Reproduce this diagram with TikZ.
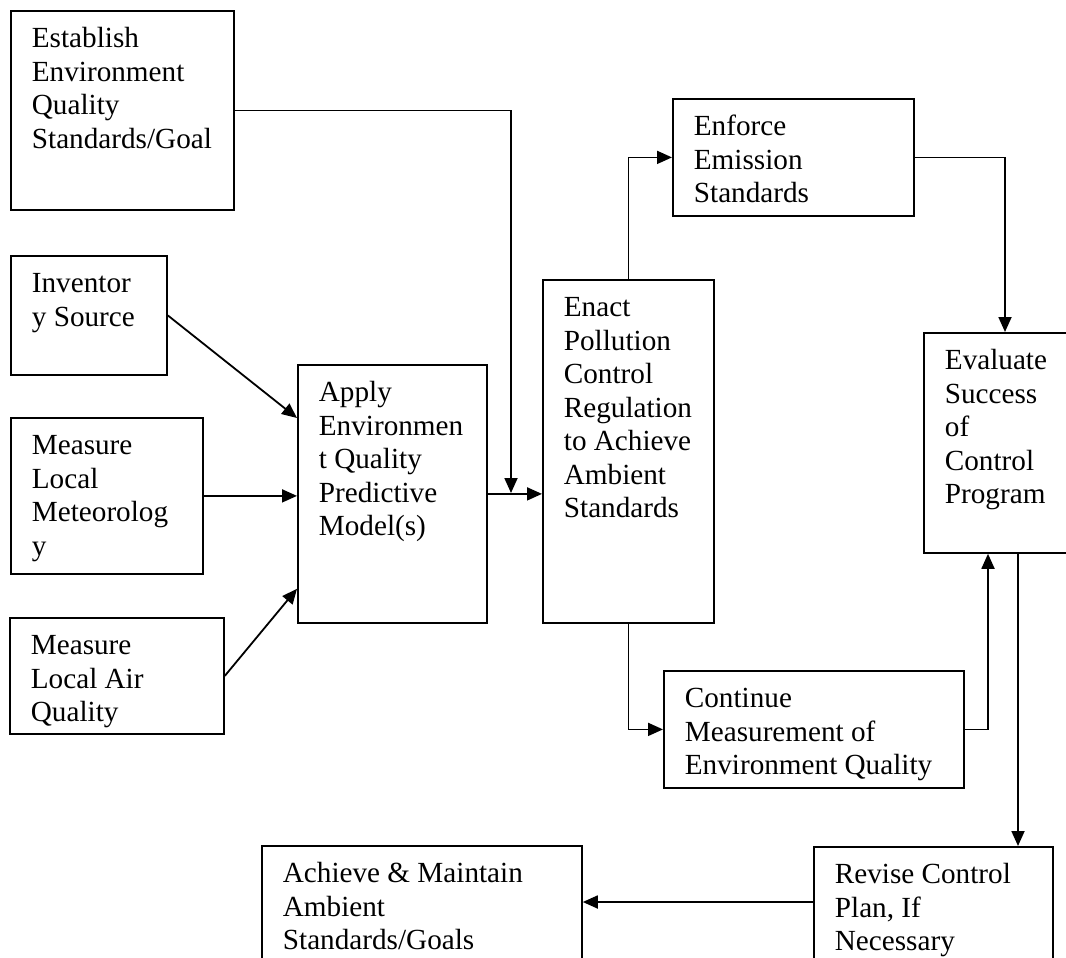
\documentclass[tikz,border=0pt]{standalone}
\usepackage{fontspec}
\setmainfont{Liberation Serif}
\usepackage{tikz}
\usetikzlibrary{arrows.meta}

\newcommand{\blkfont}{\fontsize{29.2pt}{33.5pt}\selectfont}
\newcommand{\blktext}[3]{\hspace*{21pt}\parbox[c][#2][t]{\dimexpr#1-21pt\relax}{\blkfont\raggedright\rule{0pt}{37pt}#3}}

\begin{document}
\begin{tikzpicture}[x=1pt, y=-1pt, line width=1.8pt,
		>={Triangle[length=15pt, width=13pt]},
		blk/.style={draw, anchor=north west, inner sep=0pt}]
			\useasboundingbox (0,0) rectangle (1066,958);
			\clip (0,0) rectangle (1066,958);

			% Boxes
			\node[blk] (est) at (10,10) {\blktext{223pt}{199pt}{Establish\\Environment\\Quality\\Standards/Goal}};
			\node[blk] (inv) at (10,255) {\blktext{156pt}{119pt}{Inventor\\y Source}};
			\node[blk] (met) at (10,417) {\blktext{192pt}{156pt}{Measure\\Local\\Meteorolog\\y}};
			\node[blk] (air) at (9,617) {\blktext{214pt}{116pt}{Measure\\Local Air\\Quality}};
			\node[blk] (app) at (297,364) {\blktext{189pt}{258pt}{Apply\\Environmen\\t Quality\\Predictive\\Model(s)}};
			\node[blk] (enact) at (542,279) {\blktext{171pt}{343pt}{Enact\\Pollution\\Control\\Regulation\\to Achieve\\Ambient\\Standards}};
			\node[blk] (enf) at (672,98) {\blktext{241pt}{117pt}{Enforce\\Emission\\Standards}};
			\node[blk] (eval) at (923,332) {\blktext{150pt}{220pt}{Evaluate\\Success\\of\\Control\\Program}};
			\node[blk] (cont) at (663,670) {\blktext{300pt}{117pt}{Continue\\Measurement of\\Environment Quality}};
			\node[blk] (ach) at (261,845) {\blktext{320pt}{130pt}{Achieve \& Maintain\\Ambient\\Standards/Goals}};
			\node[blk] (rev) at (813,846) {\blktext{239pt}{130pt}{Revise Control\\Plan, If\\Necessary}};

			% Joints
			\coordinate (join) at (511,493);
			\coordinate (evalin) at ([xshift=82pt]eval.north west);
			\coordinate (evalret) at ([xshift=65pt]eval.south west);
			\coordinate (evalout) at ([xshift=95pt]eval.south west);
			\coordinate (revin) at ([yshift=-56pt]rev.north west);

			% Arrows
			\draw[->] (est.east) -| (join);
			\draw[->] (inv.east) -- ([yshift=-54pt]app.north west);
			\draw[->] (met.east) -- (met.east -| app.west);
			\draw[->] (air.east) -- ([yshift=35pt]app.south west);
			\draw[->] (app.east) -- (app.east -| enact.west);
			\draw[->] (enact.north) |- (enf.west);
			\draw[->] (enf.east) -| (evalin);
			\draw[->] (enact.south) |- (cont.west);
			\draw[->] (cont.east) -| (evalret);
			\draw[->] (evalout) -- (evalout |- rev.north);
			\draw[->] (revin) -- (revin -| ach.east);
		\end{tikzpicture}
\end{document}
